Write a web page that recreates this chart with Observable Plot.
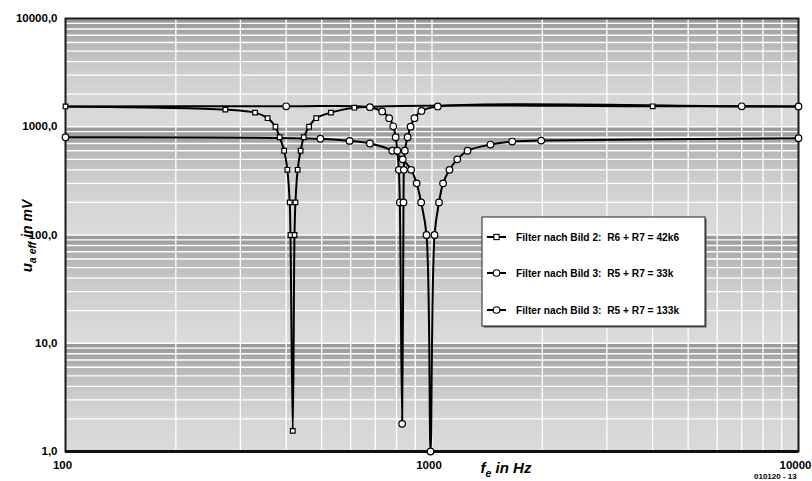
<!DOCTYPE html>
<html><head><meta charset="utf-8">
<script src="https://cdn.jsdelivr.net/npm/d3@7"></script>
<script src="https://cdn.jsdelivr.net/npm/@observablehq/plot@0.6"></script>
<style>
body{margin:0;background:#fff;}
#chart{position:relative;width:812px;height:481px;overflow:hidden;}
#chart svg{font-family:"Liberation Sans",Arial,Helvetica,sans-serif;background:#fff;}
</style></head><body><div id="chart"></div>
<script>
// ---- data ----
const legendLabels = [
  "Filter nach Bild 2:  R6 + R7 = 42k6",
  "Filter nach Bild 3:  R5 + R7 = 33k",
  "Filter nach Bild 3:  R5 + R7 = 133k"
];
// series 1 (squares)
const sqF = [100, 273, 329, 356, 374, 384, 395, 403, 409, 411, 417, 421.5, 424, 430, 438, 447, 462, 483, 530, 614, 4000, 10000];
const sqV = [1540, 1440, 1350, 1200, 1000, 800, 600, 400, 200, 100, 1.55, 100, 200, 400, 600, 800, 1000, 1200, 1350, 1500, 1545, 1540];
// series 2 (circles, notch near 830 Hz)
const c1F = [100, 400, 677, 731, 764, 784, 796, 804, 812, 817, 829, 836, 838, 843, 858, 874, 896, 936, 1037, 7000, 10000];
const c1V = [1540, 1545, 1515, 1385, 1200, 1010, 800, 600, 400, 200, 1.8, 200, 400, 600, 800, 1000, 1200, 1400, 1540, 1545, 1540];
// series 3 (circles, notch near 1000 Hz)
const c2F = [100, 496, 596, 677, 779, 832, 877, 908, 934, 966, 991, 1016, 1045, 1072, 1116, 1172, 1250, 1444, 1655, 1986, 10000];
const c2V = [800, 775, 740, 700, 600, 500, 400, 300, 200, 100, 1.0, 100, 200, 300, 400, 500, 600, 685, 730, 745, 785];

const yTicks = [1, 10, 100, 1000, 10000];
const xTicks = [100, 1000, 10000];
const xTitle = ["f", "e", " in Hz"];
const yTitle = ["u", "a eff", " in mV"];
const footer = "010120 - 13";

// ---- build ----
const toRows = (F, V, s) => F.map((f, i) => ({f, v: V[i], s}));
const sq = toRows(sqF, sqV, legendLabels[0]);
const c1 = toRows(c1F, c1V, legendLabels[1]);
const c2 = toRows(c2F, c2V, legendLabels[2]);

const decades = [1, 10, 100, 1000];
const yGrid = decades.flatMap(d => d3.range(1, 10).map(k => k * d)).concat([10000]);
const xGrid = [100, 1000].flatMap(d => d3.range(1, 10).map(k => k * d)).concat([10000]);

const fmt = d => d3.format(".1f")(d).replace(".", ",");

const plot = Plot.plot({
  width: 812, height: 481,
  marginLeft: 65, marginRight: 14, marginTop: 18, marginBottom: 30,
  x: {type: "log", domain: [100, 10000]},
  y: {type: "log", domain: [1, 10000]},
  marks: [
    Plot.rect(decades, {x1: 100, x2: 10000, y1: d => d, y2: d => d * 10, fill: "url(#decadeGrad)"}),
    Plot.ruleY(yGrid, {stroke: "#ffffff", strokeWidth: 1.3}),
    Plot.ruleX(xGrid, {stroke: "#ffffff", strokeWidth: 1.3}),
    Plot.frame({stroke: "#1a1a1a", strokeWidth: 2}),
    Plot.ruleY([1], {stroke: "#111", strokeWidth: 3}),
    Plot.line(sq, {x: "f", y: "v", stroke: "#000", strokeWidth: 2, curve: "catmull-rom"}),
    Plot.line(c1, {x: "f", y: "v", stroke: "#000", strokeWidth: 2, curve: "catmull-rom"}),
    Plot.line(c2, {x: "f", y: "v", stroke: "#000", strokeWidth: 2, curve: "catmull-rom"}),
    Plot.dot(c2, {x: "f", y: "v", r: 3.3, fill: "#fff", stroke: "#000", strokeWidth: 1.2}),
    Plot.dot(c1, {x: "f", y: "v", r: 3.3, fill: "#fff", stroke: "#000", strokeWidth: 1.2, filter: d => d.f > 100}),
    Plot.dot(sq, {x: "f", y: "v", symbol: "square", r: 2.6, fill: "#fff", stroke: "#000", strokeWidth: 1.2, filter: d => d.f < 10000}),
    Plot.axisY({ticks: yTicks, tickFormat: fmt, tickSize: 0, tickPadding: 8, label: null, fontSize: 11.5, fontWeight: "bold", fill: "#000"}),
    Plot.axisX({ticks: xTicks, tickFormat: d => String(d), tickSize: 0, tickPadding: 9, dx: -3, label: null, fontSize: 11.5, fontWeight: "bold", fill: "#000"})
  ]
});

const svg = d3.select(plot);
const defs = svg.insert("defs", ":first-child");
const grad = defs.append("linearGradient").attr("id", "decadeGrad")
  .attr("x1", 0).attr("y1", 0).attr("x2", 0).attr("y2", 1);
[[0, "#979797"], [0.1, "#a3a3a3"], [0.25, "#b9b9b9"], [0.45, "#cbcbcb"], [0.7, "#d5d5d5"], [1, "#dbdbdb"]]
  .forEach(([o, c]) => grad.append("stop").attr("offset", o).attr("stop-color", c));

// axis titles
const yt = svg.append("text").attr("transform", "translate(32,236) rotate(-90)")
  .attr("text-anchor", "middle").attr("font-weight", "bold").attr("font-style", "italic").attr("fill", "#000");
yt.append("tspan").attr("font-size", 15).text(yTitle[0]);
yt.append("tspan").attr("font-size", 10.5).attr("dy", 4).text(yTitle[1]);
yt.append("tspan").attr("font-size", 14).attr("dy", -4).text(yTitle[2]);

const xt = svg.append("text").attr("x", 506).attr("y", 473)
  .attr("text-anchor", "middle").attr("font-weight", "bold").attr("font-style", "italic").attr("fill", "#000");
xt.append("tspan").attr("font-size", 15).text(xTitle[0]);
xt.append("tspan").attr("font-size", 10.5).attr("dy", 4).text(xTitle[1]);
xt.append("tspan").attr("font-size", 15).attr("dy", -4).text(xTitle[2]);

svg.append("text").attr("x", 754).attr("y", 479).attr("text-anchor", "start").attr("font-size", 8).attr("font-weight", "bold")
  .attr("fill", "#000").text(footer);

// legend box
const lg = svg.append("g").attr("transform", "translate(482,217)");
lg.append("rect").attr("x", 1.5).attr("y", 1.5).attr("width", 223).attr("height", 109).attr("fill", "#555");
lg.append("rect").attr("width", 223).attr("height", 109).attr("fill", "#fff").attr("stroke", "#222").attr("stroke-width", 1);
const rowsY = [20, 56, 93];
legendLabels.forEach((lab, i) => {
  const y = rowsY[i];
  lg.append("line").attr("x1", 5).attr("x2", 24).attr("y1", y).attr("y2", y).attr("stroke", "#000").attr("stroke-width", 2);
  if (i === 0) {
    lg.append("rect").attr("x", 14.5 - 2.6).attr("y", y - 2.6).attr("width", 5.2).attr("height", 5.2)
      .attr("fill", "#fff").attr("stroke", "#000").attr("stroke-width", 1.1);
  } else {
    lg.append("circle").attr("cx", 14.5).attr("cy", y).attr("r", 3.3)
      .attr("fill", "#fff").attr("stroke", "#000").attr("stroke-width", 1.1);
  }
  lg.append("text").attr("x", 34).attr("y", y).attr("dy", "0.35em").attr("text-anchor", "start").attr("font-size", 10.2)
    .attr("font-weight", "bold").attr("fill", "#000").style("white-space", "pre").text(lab);
});

document.getElementById("chart").appendChild(plot);
</script></body></html>
